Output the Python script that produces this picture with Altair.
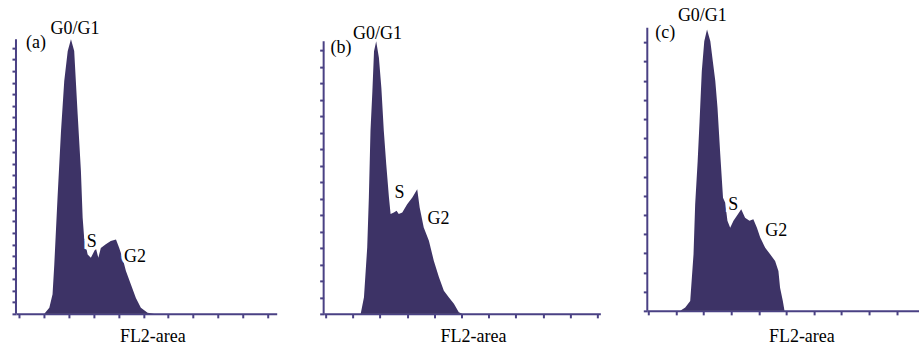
import altair as alt
import pandas as pd

# ---- histogram outlines (x in FL2 tick units, y in % of axis height) ----
a_x = [1.02, 1.22, 1.35, 1.42, 1.55, 1.69, 1.82, 1.96, 2.09, 2.22, 2.36, 2.49, 2.56, 2.62, 2.76,
       2.89, 3.09, 3.19, 3.29, 3.49, 3.69, 3.90, 4.03, 4.16, 4.30, 4.50, 4.70, 4.90, 5.17, 5.43]
a_y = [0, 2.2, 7.1, 18, 42.3, 66.6, 84.8, 95.7, 100, 95.7, 72.6, 52, 35, 27.7, 21.6,
       20.4, 24, 20.4, 24, 25.3, 26.5, 27.1, 24, 20.4, 15.6, 10.7, 5.8, 2.2, 0.4, 0]

b_x = [1.29, 1.41, 1.53, 1.59, 1.65, 1.72, 1.78, 1.86, 1.96, 2.05, 2.14, 2.23, 2.33, 2.39, 2.51, 2.61,
       2.69, 2.82, 3.00, 3.19, 3.37, 3.46, 3.61, 3.80, 3.98, 4.17, 4.35, 4.53, 4.72, 4.90, 5.03]
b_y = [0, 6.1, 24.4, 42.7, 67.1, 81.7, 96.3, 100, 93.9, 82.9, 67.1, 54.9, 42.7, 36.6, 37.2, 37.8,
       36.6, 37.2, 40.2, 42.7, 45.7, 39, 31.7, 26.8, 19.5, 13.4, 8.5, 6.1, 3.7, 0.6, 0]

c_x = [1.15, 1.33, 1.51, 1.63, 1.69, 1.78, 1.85, 1.93, 2.02, 2.12, 2.24, 2.33, 2.42, 2.50, 2.60, 2.70, 2.78,
       2.86, 2.96, 3.08, 3.24, 3.36, 3.50, 3.66, 3.80, 3.93, 4.05, 4.23, 4.41, 4.59, 4.71, 4.77, 4.87, 4.93]
c_y = [0, 1.2, 3.5, 20, 37.7, 52.9, 67.1, 84.7, 95.3, 99.4, 95.3, 88.2, 81.2, 71.8, 55.3, 40, 38.2,
       31.8, 29.4, 31.8, 34.1, 35.9, 32.9, 31.8, 32.4, 29.4, 25.9, 22.3, 20, 17.6, 14.1, 8.2, 3.5, 0]

x_ticks = list(range(0, 11))
axis_title = "FL2-area"
phase_labels = ["G0/G1", "S", "G2"]
panel_tags = ["(a)", "(b)", "(c)"]

FILL = "#3d3366"
AXC = "#4a4184"
FONT = "Liberation Serif"

# annotation anchors (data units of each panel)
ann = {
    "a": dict(g1=(2.25, 101.8), tag=(0.28, 96.7), s=(2.93, 24.4), g2=(4.22, 18.9), ttl=(5.38, -10.2)),
    "b": dict(g1=(1.91, 100.7), tag=(0.18, 95.6), s=(2.72, 42.5), g2=(3.75, 33.0), ttl=(5.44, -10.3)),
    "c": dict(g1=(1.95, 102.4), tag=(0.24, 96.4), s=(3.07, 35.7), g2=(4.23, 26.5), ttl=(5.56, -10.9)),
}

geo = {
    "a": dict(w=261, h=287, xdom=[-0.12, 10.36], ydom=[0, 104.36], ystep=4.207),
    "b": dict(w=277, h=287, xdom=[-0.074, 10.11], ydom=[0, 105.13], ystep=6.04),
    "c": dict(w=272, h=284, xdom=[-0.047, 9.81], ydom=[0, 100.25], ystep=6.78),
}


def panel(key, xs, ys, tag):
    g = geo[key]
    an = ann[key]
    xs_ = alt.Scale(domain=g["xdom"], nice=False, zero=False)
    ys_ = alt.Scale(domain=g["ydom"], nice=False, zero=False)
    yt = [round(k * g["ystep"], 3) for k in range(int(100 / g["ystep"]) + 1)]
    df = pd.DataFrame({"x": xs, "y": ys})

    xaxis = alt.Axis(values=x_ticks, tickCount=len(x_ticks), labels=False, title=None, grid=False,
                     domainColor=AXC, domainWidth=2, tickColor=AXC, tickWidth=2, tickSize=4)
    yaxis = alt.Axis(values=yt, tickCount=len(yt), labels=False, title=None, grid=False,
                     domain=False, tickColor=AXC, tickWidth=2, tickSize=4)

    area = alt.Chart(df).mark_area(color=FILL, opacity=1).encode(
        x=alt.X("x:Q", scale=xs_, axis=xaxis),
        y=alt.Y("y:Q", scale=ys_, axis=yaxis),
    )
    yaxis_line = alt.Chart(pd.DataFrame({"y": [0], "y2": [100]})).mark_rule(
        color=AXC, strokeWidth=2).encode(x=alt.value(0), y=alt.Y("y:Q", axis=yaxis), y2="y2:Q")

    halo_df = pd.DataFrame({"x": [an["s"][0]], "y": [an["s"][1]], "t": [phase_labels[1]]})
    halo_l_df = pd.DataFrame({"x": [an["g2"][0]], "y": [an["g2"][1]], "t": [phase_labels[2]]})
    ctr_df = pd.DataFrame({
        "x": [an["g1"][0], an["s"][0], an["ttl"][0]],
        "y": [an["g1"][1], an["s"][1], an["ttl"][1]],
        "t": [phase_labels[0], phase_labels[1], axis_title],
    })
    left_df = pd.DataFrame({
        "x": [an["tag"][0], an["g2"][0]],
        "y": [an["tag"][1], an["g2"][1]],
        "t": [tag, phase_labels[2]],
    })
    enc = dict(x=alt.X("x:Q", axis=xaxis), y=alt.Y("y:Q", axis=yaxis), text="t:N")
    halo_c = alt.Chart(halo_df).mark_text(font=FONT, fontSize=18, align="center", baseline="alphabetic",
                                          color="white", stroke="white", strokeWidth=7).encode(**enc)
    halo_l = alt.Chart(halo_l_df).mark_text(font=FONT, fontSize=18, align="left", baseline="alphabetic",
                                            color="white", stroke="white", strokeWidth=7).encode(**enc)
    txt_c = alt.Chart(ctr_df).mark_text(font=FONT, fontSize=18, align="center", baseline="alphabetic",
                                        color="black").encode(**enc)
    txt_l = alt.Chart(left_df).mark_text(font=FONT, fontSize=18, align="left", baseline="alphabetic",
                                         color="black").encode(**enc)
    return alt.layer(area, yaxis_line, halo_c, halo_l, txt_c, txt_l).properties(width=g["w"], height=g["h"])


pa = panel("a", a_x, a_y, panel_tags[0])
pb = panel("b", b_x, b_y, panel_tags[1])
pc = panel("c", c_x, c_y, panel_tags[2])

chart = alt.hconcat(pa, pb, pc, spacing=47, bounds="flush").configure_view(stroke=None).properties(
    padding={"left": 11, "top": 6, "right": 0, "bottom": 0}, background="white")

chart.save("out.html", embed_options={"renderer": "svg", "actions": False})
